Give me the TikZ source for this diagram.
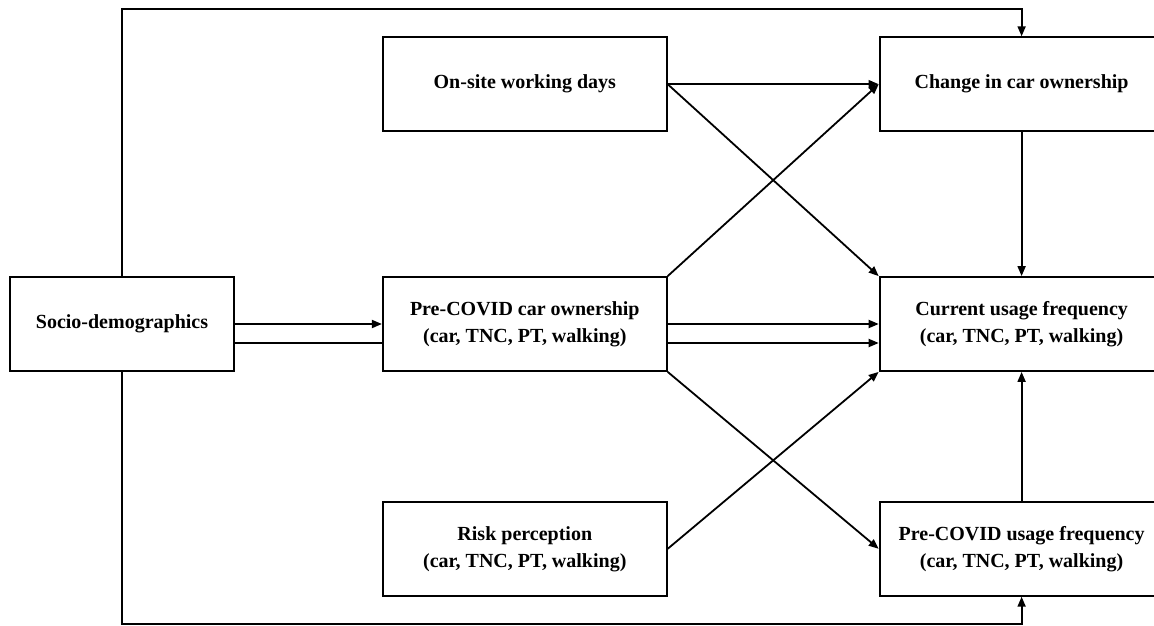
\documentclass[tikz,border=0pt]{standalone}
\usepackage{fontspec}
\setmainfont{Liberation Serif}
\usepackage{tikz}
\usetikzlibrary{positioning,arrows.meta}
\tikzset{
	>={Triangle[length=10pt,width=8pt]}, % filled triangle heads
	box/.style={draw, fill=white, minimum width=284pt, minimum height=94pt, inner sep=0pt, align=center, font=\fontsize{20}{27}\selectfont\bfseries}, % the variable boxes
	link/.style={->}, % directed connectors
}

\begin{document}
\begin{tikzpicture}[x=1pt,y=-1pt,line width=1.8pt]
		\useasboundingbox (0,0) rectangle (1154,626);
		\coordinate (topline) at (0,9);
		\coordinate (botline) at (0,624);
		
		\node[box,minimum width=224pt] (socio) at (122,324) {Socio-demographics};
		\node[box,right=147pt of socio] (preown) {Pre-COVID car ownership\\(car, TNC, PT, walking)};
		\node[box,above=144pt of preown] (onsite) {On-site working days};
		\node[box,below=129pt of preown] (risk) {Risk perception\\(car, TNC, PT, walking)};
		\node[box,right=211pt of preown] (current) {Current usage frequency\\(car, TNC, PT, walking)};
		\node[box,right=211pt of onsite] (change) {Change in car ownership};
		\node[box,right=211pt of risk] (preusage) {Pre-COVID usage frequency\\(car, TNC, PT, walking)};
		
		\draw[link] (socio.north) -- (socio.north |- topline) -| (change.north);
		\draw[link] (socio.south) -- (socio.south |- botline) -| (preusage.south);
		\draw[link] (socio.east) -- (preown.west);
		\draw ([yshift=-19pt]socio.east) -- ([yshift=-19pt]preown.west);
		\draw	(onsite.east) edge[link] (change.west)
					  (onsite.east) edge[link] (current.north west)
					  (preown.north east) edge[link] (change.west)
					  (preown.east) edge[link] (current.west)
					  ([yshift=-19pt]preown.east) edge[link] ([yshift=-19pt]current.west)
					  (preown.south east) edge[link] (preusage.west)
					  (risk.east) edge[link] (current.south west)
					  (change.south) edge[link] (current.north)
					  (preusage.north) edge[link] (current.south);
		
	\end{tikzpicture}
\end{document}
